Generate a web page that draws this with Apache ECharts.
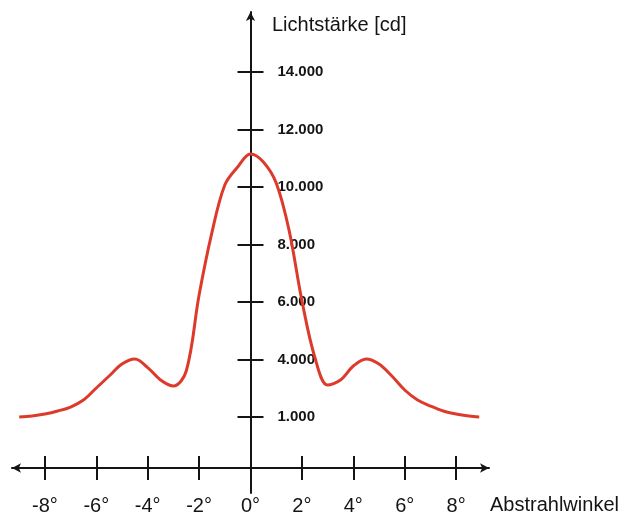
<!DOCTYPE html>
<html><head><meta charset="utf-8">
<script src="https://cdn.jsdelivr.net/npm/echarts@6/dist/echarts.min.js"></script>
<style>html,body{margin:0;padding:0;background:#fff}#c{width:622px;height:514px}</style>
</head><body><div id="c"></div>
<script>
// Abstrahlwinkel (degrees)
const angles = [-9,-8.5,-8,-7.5,-7,-6.5,-6,-5.5,-5,-4.5,-4,-3.5,-3,-2.5,-2,-1.5,-1,-0.5,0,0.5,1,1.5,2,2.5,3,3.5,4,4.5,5,5.5,6,6.5,7,7.5,8,8.5,8.9];
// Lichtstärke in axis units
const intensities = [2000,2035,2104,2209,2348,2591,3009,3426,3843,4017,3720,3287,3078,3600,6243,8420,10070,10696,11148,10870,10139,8500,6050,4087,3113,3287,3774,4017,3843,3426,2939,2591,2382,2209,2104,2035,2000];
const xTickValues = [-8,-6,-4,-2,0,2,4,6,8];
const xTickLabels = ['-8°','-6°','-4°','-2°','0°','2°','4°','6°','8°'];
const yTickValues = [2000,4000,6000,8000,10000,12000,14000];
const yTickLabels = ['1.000','4.000','6.000','8.000','10.000','12.000','14.000'];

const FONT = '"Liberation Sans", Arial, Helvetica, sans-serif';
const AX = '#141414';
const xMin = -9.28, xMax = 9.28, yMin = -643, yMax = 16087;

const chart = echarts.init(document.getElementById('c'), null, {renderer: 'canvas'});
const baseX = {
  type: 'value', min: xMin, max: xMax, position: 'bottom', offset: -25,
  splitLine: {show: false}
};
const baseY = {
  type: 'value', min: yMin, max: yMax, position: 'left', offset: -238.5,
  splitLine: {show: false}
};
chart.setOption({
  backgroundColor: '#fff',
  animation: false,
  title: [
    {text: 'Lichtstärke [cd]', left: 267, top: 10, textStyle: {fontFamily: FONT, fontSize: 20, fontWeight: 'normal', color: AX}},
    {text: 'Abstrahlwinkel', left: 485, top: 490, textStyle: {fontFamily: FONT, fontSize: 20, fontWeight: 'normal', color: AX}}
  ],
  grid: {left: 12, right: 133, top: 12, bottom: 21, containLabel: false, outerBoundsMode: 'none'},
  xAxis: [
    Object.assign({}, baseX, {
      axisLine: {show: true, onZero: false, symbol: ['arrow', 'arrow'], symbolSize: [7, 9], lineStyle: {color: AX, width: 2}},
      axisTick: {show: true, inside: false, length: 12, customValues: xTickValues, lineStyle: {color: AX, width: 2}},
      axisLabel: {show: true, margin: 28, customValues: xTickValues,
        formatter: v => xTickLabels[xTickValues.indexOf(v)] || '',
        fontFamily: FONT, fontSize: 20, color: AX}
    }),
    Object.assign({}, baseX, {
      axisLine: {show: false, onZero: false},
      axisTick: {show: true, inside: true, length: 12, customValues: xTickValues, lineStyle: {color: AX, width: 2}},
      axisLabel: {show: false}
    })
  ],
  yAxis: [
    Object.assign({}, baseY, {
      axisLine: {show: true, onZero: false, symbol: ['none', 'arrow'], symbolSize: [7, 9], lineStyle: {color: AX, width: 2}},
      axisTick: {show: true, inside: false, length: 13, customValues: yTickValues, lineStyle: {color: AX, width: 2}},
      axisLabel: {show: true, inside: true, margin: 27, customValues: yTickValues,
        formatter: v => yTickLabels[yTickValues.indexOf(v)] || '',
        fontFamily: FONT, fontSize: 15, fontWeight: 'bold', color: AX}
    }),
    Object.assign({}, baseY, {
      axisLine: {show: false, onZero: false},
      axisTick: {show: true, inside: true, length: 13, customValues: yTickValues, lineStyle: {color: AX, width: 2}},
      axisLabel: {show: false}
    })
  ],
  series: [{
    type: 'line', xAxisIndex: 0, yAxisIndex: 0,
    data: angles.map((a, i) => [a, intensities[i]]),
    smooth: 0.35, showSymbol: false, symbol: 'none',
    lineStyle: {color: '#dc3b2c', width: 3}
  }]
});
</script></body></html>
